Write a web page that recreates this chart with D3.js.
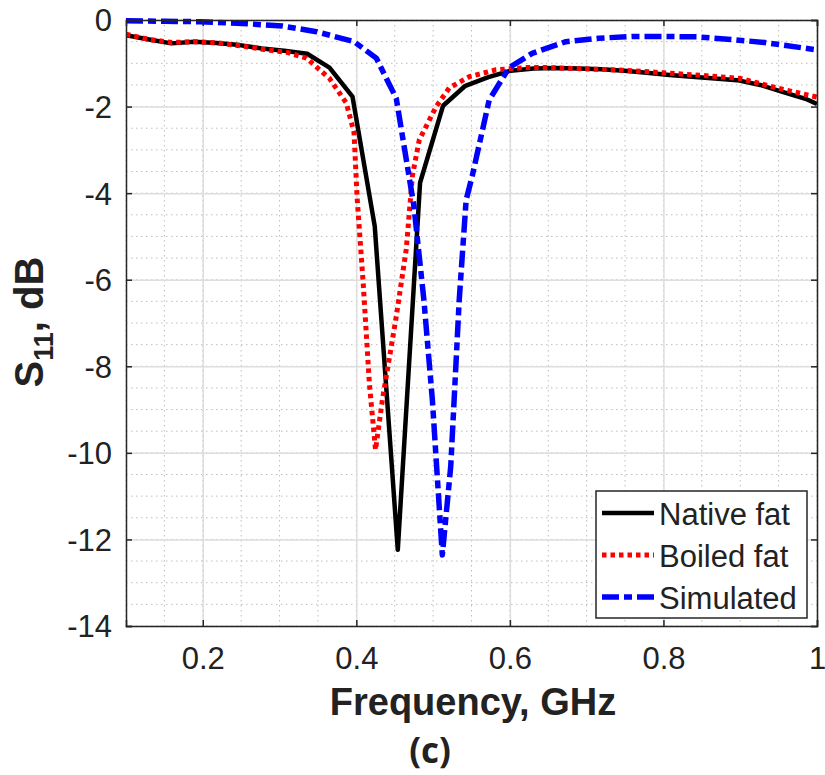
<!DOCTYPE html>
<html>
<head>
<meta charset="utf-8">
<script src="https://cdn.jsdelivr.net/npm/d3@7"></script>
<style>
  body { margin: 0; background: #fff; }
  text { font-family: "Liberation Sans", Arial, sans-serif; fill: #222; }
</style>
</head>
<body>
<div id="s11-vis"></div>
<script>
var nativeFreq = [0.100, 0.130, 0.159, 0.189, 0.218, 0.248, 0.277, 0.306, 0.336, 0.365, 0.395, 0.424, 0.454, 0.483, 0.513, 0.542,
  0.572, 0.601, 0.631, 0.660, 0.690, 0.719, 0.749, 0.778, 0.808, 0.837, 0.867, 0.896, 0.926, 0.955, 0.985, 1.000];
var nativeS11 = [-0.35, -0.45, -0.54, -0.50, -0.53, -0.58, -0.66, -0.71, -0.78, -1.10, -1.77, -4.77, -12.24, -3.76, -1.98, -1.52,
  -1.32, -1.17, -1.12, -1.11, -1.12, -1.14, -1.17, -1.22, -1.27, -1.31, -1.35, -1.39, -1.50, -1.66, -1.82, -1.94];

var boiledFreq = [0.100, 0.130, 0.160, 0.190, 0.220, 0.250, 0.280, 0.310, 0.335, 0.365, 0.387, 0.397, 0.401, 0.409, 0.417, 0.425,
  0.434, 0.452, 0.465, 0.473, 0.482, 0.504, 0.521, 0.547, 0.582, 0.620, 0.650, 0.700, 0.750, 0.800, 0.850, 0.900, 0.950, 1.000];
var boiledS11 = [-0.33, -0.45, -0.52, -0.50, -0.53, -0.60, -0.68, -0.75, -0.88, -1.35, -1.92, -2.60, -4.10, -6.10, -8.40, -9.93,
  -8.77, -6.85, -5.30, -3.60, -2.77, -2.00, -1.57, -1.31, -1.15, -1.10, -1.10, -1.13, -1.16, -1.22, -1.28, -1.35, -1.58, -1.78];

var simFreq = [0.100, 0.150, 0.196, 0.252, 0.304, 0.348, 0.397, 0.426, 0.452, 0.475, 0.488, 0.499, 0.512, 0.523, 0.534, 0.543,
  0.551, 0.573, 0.599, 0.629, 0.673, 0.716, 0.759, 0.802, 0.845, 0.888, 0.932, 1.000];
var simS11 = [-0.02, -0.03, -0.04, -0.08, -0.14, -0.27, -0.50, -0.88, -1.81, -4.30, -6.47, -8.77, -12.36, -10.30, -6.47, -4.16,
  -3.60, -1.85, -1.10, -0.77, -0.50, -0.42, -0.38, -0.38, -0.39, -0.45, -0.52, -0.69];

var seriesNames = ['Native fat', 'Boiled fat', 'Simulated'];
var xTicks = [0.2, 0.4, 0.6, 0.8, 1];
var yTicks = [0, -2, -4, -6, -8, -10, -12, -14];

var w = 825;
var h = 775;
var margin = { top: 20, right: 8, bottom: 149, left: 126 };

var svg = d3.select('#s11-vis')
  .append('svg')
    .attr('width', w)
    .attr('height', h);

var x = d3.scaleLinear().domain([0.1, 1]).range([margin.left, w - margin.right]);
var y = d3.scaleLinear().domain([-14, 0]).range([h - margin.bottom, margin.top]);

// minor grid (dotted)
var xMinor = d3.range(0.1, 1.0001, 0.05);
var yMinor = d3.range(-14, 0.0001, 0.5);

svg.append('g').selectAll('line')
  .data(xMinor)
  .enter()
  .append('line')
    .attr('x1', function(d) { return x(d); })
    .attr('x2', function(d) { return x(d); })
    .attr('y1', y(0))
    .attr('y2', y(-14))
    .attr('stroke', '#bdbdbd')
    .attr('stroke-width', 1)
    .attr('stroke-dasharray', '1.5,3.5');

svg.append('g').selectAll('line')
  .data(yMinor)
  .enter()
  .append('line')
    .attr('x1', x(0.1))
    .attr('x2', x(1))
    .attr('y1', function(d) { return y(d); })
    .attr('y2', function(d) { return y(d); })
    .attr('stroke', '#bdbdbd')
    .attr('stroke-width', 1)
    .attr('stroke-dasharray', '1.5,3.5');

// major grid (solid, light)
svg.append('g')
  .attr('transform', 'translate(0,' + y(-14) + ')')
  .call(d3.axisBottom(x).tickValues(xTicks).tickSize(-(y(-14) - y(0))).tickFormat(''))
  .call(function(g) { g.select('.domain').remove(); })
  .selectAll('line').attr('stroke', '#dedede').attr('stroke-width', 1.5);

svg.append('g')
  .attr('transform', 'translate(' + x(0.1) + ',0)')
  .call(d3.axisLeft(y).tickValues(yTicks).tickSize(-(x(1) - x(0.1))).tickFormat(''))
  .call(function(g) { g.select('.domain').remove(); })
  .selectAll('line').attr('stroke', '#dedede').attr('stroke-width', 1.5);

// curves
var line = d3.line()
  .x(function(d) { return x(d[0]); })
  .y(function(d) { return y(d[1]); });

var curves = [
  { name: seriesNames[0], pts: d3.zip(nativeFreq, nativeS11), color: '#000000', dash: null, width: 4.5 },
  { name: seriesNames[1], pts: d3.zip(boiledFreq, boiledS11), color: '#ff0000', dash: '4.5,4', width: 5 },
  { name: seriesNames[2], pts: d3.zip(simFreq, simS11), color: '#0000ff', dash: '17,5,8,5', width: 5.5 }
];

svg.append('clipPath').attr('id', 'plot-clip')
  .append('rect')
    .attr('x', x(0.1))
    .attr('y', y(0) - 3)
    .attr('width', x(1) - x(0.1))
    .attr('height', y(-14) - y(0) + 3);

svg.append('g')
  .attr('clip-path', 'url(#plot-clip)')
  .selectAll('path')
  .data(curves)
  .enter()
  .append('path')
    .attr('d', function(d) { return line(d.pts); })
    .attr('fill', 'none')
    .attr('stroke', function(d) { return d.color; })
    .attr('stroke-width', function(d) { return d.width; })
    .attr('stroke-dasharray', function(d) { return d.dash; })
    .attr('stroke-linejoin', 'round');

// axes box + ticks on all four sides
var axisColor = '#262626';

var bottomAxis = svg.append('g')
  .attr('transform', 'translate(0,' + y(-14) + ')')
  .call(d3.axisBottom(x).tickValues(xTicks).tickSize(-6).tickPadding(14).tickFormat(function(d) { return d === 1 ? '1' : d.toFixed(1); }));
bottomAxis.selectAll('text').attr('font-size', 31).attr('dy', '0.95em').attr('fill', '#222');

var topAxis = svg.append('g')
  .attr('transform', 'translate(0,' + y(0) + ')')
  .call(d3.axisTop(x).tickValues(xTicks).tickSize(-6).tickFormat(''));

// plain hyphen for negatives, like the original figure
var leftAxis = svg.append('g')
  .attr('transform', 'translate(' + x(0.1) + ',0)')
  .call(d3.axisLeft(y).tickValues(yTicks).tickSize(-6).tickPadding(14).tickFormat(function(d) { return String(d); }));
leftAxis.selectAll('text').attr('font-size', 31).attr('dy', '0.35em').attr('fill', '#222');

var rightAxis = svg.append('g')
  .attr('transform', 'translate(' + x(1) + ',0)')
  .call(d3.axisRight(y).tickValues(yTicks).tickSize(-6).tickFormat(''));

[bottomAxis, topAxis, leftAxis, rightAxis].forEach(function(g) {
  g.select('.domain').attr('stroke', axisColor).attr('stroke-width', 1.5);
  g.selectAll('.tick line').attr('stroke', axisColor).attr('stroke-width', 1.5);
});

// legend
var legend = svg.append('g').attr('class', 'legend');

legend.append('rect')
  .attr('x', 596)
  .attr('y', 491)
  .attr('width', 211)
  .attr('height', 127)
  .attr('fill', '#fff')
  .attr('stroke', axisColor)
  .attr('stroke-width', 1.5);

var legendRow = legend.selectAll('.legend-row')
  .data(curves)
  .enter()
  .append('g')
    .attr('class', 'legend-row')
    .attr('transform', function(d, i) {
      return 'translate(602, ' + (513 + i * 42) + ')';
    });

legendRow.append('line')
  .attr('x1', 0)
  .attr('x2', 52)
  .attr('y1', 0)
  .attr('y2', 0)
  .attr('stroke', function(d) { return d.color; })
  .attr('stroke-width', function(d) { return d.width; })
  .attr('stroke-dasharray', function(d) { return d.dash; });

legendRow.append('text')
  .text(function(d) { return d.name; })
    .attr('x', 57)
    .attr('y', 12)
    .attr('font-size', 31)
    .attr('fill', '#111');

// axis titles
svg.append('text')
  .text('Frequency, GHz')
    .attr('x', 473)
    .attr('y', 715)
    .attr('text-anchor', 'middle')
    .attr('font-size', 38)
    .attr('font-weight', 'bold')
    .attr('fill', '#222');

svg.append('text')
  .text('(c)')
    .attr('x', 430)
    .attr('y', 763)
    .attr('text-anchor', 'middle')
    .attr('font-size', 35)
    .attr('font-weight', 'bold')
    .attr('fill', '#222')
    .style('font-family', '"Open Sans", Lato, sans-serif');

var yTitle = svg.append('text')
  .attr('transform', 'translate(43, 322) rotate(-90)')
  .attr('text-anchor', 'middle')
  .attr('font-size', 40)
  .attr('font-weight', 'bold')
  .attr('fill', '#222');
yTitle.append('tspan').text('S');
yTitle.append('tspan').text('11').attr('font-size', 27).attr('dy', 10);
yTitle.append('tspan').text(', dB').attr('dy', -10);
</script>
</body>
</html>
